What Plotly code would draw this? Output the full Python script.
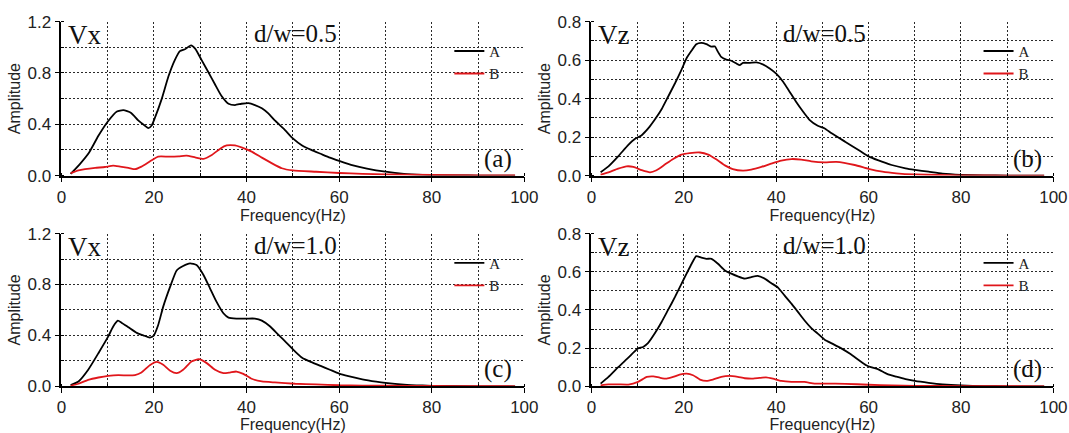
import plotly.graph_objects as go

# ---------------- data ----------------
# (a) Vx, d/w=0.5
fa_A = [2, 4, 6, 8, 10, 12, 13.4, 15, 16.6, 18, 18.8, 19.5, 20.2, 21.7, 23.1, 24.5, 25.6, 26.7, 28, 28.9,
        30.3, 31.7, 33.2, 34.6, 36.1, 37.5, 38.9, 40.4, 41.8, 43.3, 44.7, 46.1, 48.3, 50, 52, 54, 56, 58,
        60, 63, 66, 70, 74, 78, 82, 86, 90, 94, 98]
a_A = [0.013, 0.09, 0.18, 0.31, 0.42, 0.5, 0.51, 0.49, 0.43, 0.39, 0.37, 0.39, 0.45, 0.60, 0.77, 0.90,
       0.97, 0.985, 1.015, 0.99, 0.90, 0.81, 0.71, 0.62, 0.56, 0.55, 0.56, 0.565, 0.55, 0.525, 0.485, 0.43,
       0.355, 0.29, 0.235, 0.2, 0.17, 0.14, 0.115, 0.08, 0.055, 0.03, 0.013, 0.005, 0.002, 0.001, 0, 0, 0]
fa_B = [2, 3.7, 5.1, 7.3, 9.4, 11.2, 12.7, 14.5, 15.9, 17.3, 19.1, 20.9, 23.1, 25.3, 27, 28.9, 30.7, 32.5,
        34.3, 35.7, 37.5, 38.9, 41.1, 43.3, 45.4, 47.6, 50, 55, 60, 65, 70, 80, 90, 98]
a_B = [0.018, 0.04, 0.05, 0.06, 0.067, 0.077, 0.07, 0.06, 0.05, 0.07, 0.11, 0.148, 0.148, 0.15, 0.155,
       0.142, 0.13, 0.16, 0.21, 0.235, 0.235, 0.22, 0.187, 0.14, 0.097, 0.057, 0.04, 0.03, 0.02, 0.014,
       0.01, 0.005, 0.002, 0.001]

# (b) Vz, d/w=0.5
fb_A = [2, 3.7, 5.8, 8, 9.4, 10.9, 12.3, 13.7, 15.2, 16.6, 18.1, 19.5, 20.6, 21.7, 22.7, 23.8, 24.9, 26,
        26.7, 27.4, 28.1, 29.2, 30.3, 31.4, 32.1, 32.8, 34.3, 35.7, 37.1, 38.6, 40, 41.5, 42.9, 44.3, 45.8,
        47.2, 49, 50.5, 52, 55, 58, 60, 62, 65, 68, 70, 73, 76, 80, 85, 90, 98]
b_A = [0.017, 0.048, 0.10, 0.16, 0.19, 0.21, 0.245, 0.29, 0.345, 0.41, 0.48, 0.55, 0.61, 0.65, 0.683,
       0.69, 0.683, 0.67, 0.672, 0.643, 0.617, 0.603, 0.597, 0.583, 0.574, 0.586, 0.586, 0.588, 0.578,
       0.557, 0.53, 0.488, 0.436, 0.384, 0.333, 0.29, 0.259, 0.245, 0.22, 0.175, 0.13, 0.10, 0.08, 0.055,
       0.038, 0.03, 0.02, 0.01, 0.004, 0.001, 0, 0]
fb_B = [2, 3.7, 5.8, 7.6, 9.1, 10.9, 12.7, 14.1, 15.9, 17.7, 19.5, 21.3, 23.5, 25.3, 27.1, 28.9, 30.6,
        32.8, 34.6, 36.8, 38.9, 41.1, 43.3, 45.4, 47.6, 50.5, 53, 57, 60, 63, 66, 70, 75, 80, 90, 98]
b_B = [0.005, 0.017, 0.036, 0.048, 0.045, 0.028, 0.017, 0.028, 0.057, 0.086, 0.109, 0.117, 0.12, 0.109,
       0.083, 0.053, 0.034, 0.026, 0.031, 0.045, 0.062, 0.078, 0.086, 0.083, 0.074, 0.069, 0.071, 0.055,
       0.035, 0.02, 0.012, 0.006, 0.003, 0.001, 0, 0]

# (c) Vx, d/w=1.0
fc_A = [2, 3.7, 5.8, 8, 10.1, 11.2, 12.2, 13, 14.5, 16.3, 17.7, 19.1, 19.9, 20.9, 22, 23.5, 24.9, 26.3,
        27.8, 29.2, 30.7, 32.1, 33.5, 35, 36.1, 37.8, 40, 41.8, 43.3, 45.1, 46.9, 48.7, 50.5, 52, 54, 56,
        58, 60, 62, 65, 68, 70, 74, 78, 82, 90, 98]
c_A = [0.01, 0.038, 0.13, 0.26, 0.39, 0.47, 0.516, 0.50, 0.464, 0.42, 0.40, 0.383, 0.396, 0.48, 0.626,
       0.783, 0.91, 0.945, 0.966, 0.953, 0.875, 0.77, 0.665, 0.574, 0.54, 0.532, 0.532, 0.532, 0.516, 0.47,
       0.404, 0.34, 0.273, 0.225, 0.19, 0.16, 0.13, 0.1, 0.08, 0.055, 0.037, 0.027, 0.013, 0.006, 0.002, 0, 0]
fc_B = [2, 3.7, 5.8, 8, 10.1, 12.3, 14.5, 15.9, 17.3, 19.1, 20.6, 22, 23.5, 24.9, 26.3, 28.1, 29.7, 31.4,
        33.2, 35, 36.4, 37.8, 39.3, 41.1, 43.3, 46.1, 50.5, 55, 60, 70, 80, 90, 98]
c_B = [0.004, 0.02, 0.05, 0.069, 0.082, 0.088, 0.085, 0.088, 0.108, 0.166, 0.192, 0.169, 0.122, 0.103,
       0.13, 0.195, 0.213, 0.182, 0.13, 0.103, 0.108, 0.116, 0.098, 0.059, 0.038, 0.03, 0.02, 0.015, 0.008,
       0.004, 0.002, 0.001, 0]

# (d) Vz, d/w=1.0
fd_A = [2, 3.7, 5.8, 8, 10, 11.2, 12.3, 13.7, 15.2, 16.6, 18.1, 19.5, 20.6, 21.7, 22.7, 23.8, 24.9, 26,
        27.4, 28.9, 30.3, 31.7, 33.2, 34.6, 36, 37.5, 38.9, 40.4, 41.8, 43.3, 44.7, 46.1, 47.6, 49, 50.5,
        52, 54, 56, 58, 59.5, 60.5, 62, 64, 66, 68, 70, 73, 76, 80, 85, 90, 98]
d_A = [0.014, 0.049, 0.10, 0.15, 0.197, 0.206, 0.227, 0.276, 0.337, 0.40, 0.468, 0.537, 0.59, 0.642,
       0.682, 0.674, 0.668, 0.668, 0.642, 0.607, 0.59, 0.576, 0.564, 0.572, 0.578, 0.564, 0.541, 0.517,
       0.476, 0.433, 0.39, 0.346, 0.305, 0.276, 0.244, 0.225, 0.2, 0.17, 0.135, 0.11, 0.1, 0.09, 0.065,
       0.05, 0.037, 0.028, 0.018, 0.01, 0.004, 0.001, 0, 0]
fd_B = [2, 3.7, 5.8, 8, 10.1, 12, 13.4, 14.8, 16.3, 17.7, 19.1, 20.6, 22, 23.5, 24.9, 26.3, 28.1, 29.9,
        31.7, 33.2, 35, 36.4, 37.8, 39.3, 41.1, 43.3, 46.1, 48.3, 50.5, 55, 60, 65, 70, 80, 98]
d_B = [0.005, 0.01, 0.01, 0.009, 0.023, 0.049, 0.052, 0.045, 0.04, 0.049, 0.061, 0.066, 0.058, 0.035,
       0.028, 0.035, 0.049, 0.054, 0.049, 0.042, 0.04, 0.044, 0.047, 0.04, 0.028, 0.023, 0.023, 0.014,
       0.014, 0.013, 0.008, 0.004, 0.002, 0.001, 0]

series_names = ["A", "B"]
components = ["Vx", "Vz", "Vx", "Vz"]
ratios = ["d/w=0.5", "d/w=0.5", "d/w=1.0", "d/w=1.0"]
tags = ["(a)", "(b)", "(c)", "(d)"]
x_ticks = [0, 20, 40, 60, 80, 100]
y_max = [1.2, 0.8, 1.2, 0.8]
x_title = "Frequency(Hz)"
y_title = "Amplitude"

panels = [(fa_A, a_A, fa_B, a_B), (fb_A, b_A, fb_B, b_B),
          (fc_A, c_A, fc_B, c_B), (fd_A, d_A, fd_B, d_B)]

# ---------------- layout geometry ----------------
W, H = 1069, 433
x_dom = [[0.0574, 0.4905], [0.5532, 0.9854], [0.0574, 0.4905], [0.5532, 0.9854]]
y_dom = [[0.5945, 0.9499], [0.5945, 0.9499], [0.1079, 0.4605], [0.1079, 0.4605]]

SERIF = "Liberation Serif, Times New Roman, serif"
SANS = "Liberation Sans, Arial, sans-serif"
colors = {"A": "#000000", "B": "#e0161b"}
GRID = "#2a2a2a"

fig = go.Figure()
layout = dict(width=W, height=H, margin=dict(l=0, r=0, t=0, b=0),
              paper_bgcolor="white", plot_bgcolor="white", showlegend=True,
              font=dict(family=SANS, color="black"))
annotations = []

for i, (fA, vA, fB, vB) in enumerate(panels):
    n = "" if i == 0 else str(i + 1)
    leg = "legend" if i == 0 else "legend" + str(i + 1)
    for name, fx, vy in (("A", fA, vA), ("B", fB, vB)):
        fig.add_trace(go.Scatter(
            x=fx, y=vy, mode="lines", name=name,
            line=dict(color=colors[name], width=1.8, shape="spline", smoothing=0.5),
            xaxis="x" + n, yaxis="y" + n, legend=leg, legendgroup=leg + name,
            hoverinfo="skip"))
    ymax = y_max[i]
    ystep = 0.4 if ymax > 1 else 0.2
    grid = dict(showgrid=True, gridcolor=GRID, gridwidth=1, griddash="2px,2px")
    layout["xaxis" + n] = dict(
        domain=x_dom[i], anchor="y" + n, range=[0, 100], tickmode="array", tickvals=x_ticks,
        ticks="outside", ticklen=5, tickwidth=1.3, tickcolor="black",
        showline=True, linecolor="black", linewidth=1.5, zeroline=False,
        tickfont=dict(family=SANS, size=17, color="#222"), ticklabeloverflow="allow",
        title=dict(text=x_title, font=dict(family=SANS, size=16, color="#222"), standoff=4),
        minor=dict(dtick=10, tick0=0, ticks="inside", ticklen=3, tickcolor="black",
                   showgrid=True, gridcolor=GRID, gridwidth=1, griddash="2px,2px"),
        automargin=False, fixedrange=True, **grid)
    layout["yaxis" + n] = dict(
        domain=y_dom[i], anchor="x" + n, range=[0, ymax], dtick=ystep, tick0=0, tickformat=".1f",
        ticks="outside", ticklen=5, tickwidth=1.3, tickcolor="black",
        showline=True, linecolor="black", linewidth=1.5, zeroline=False,
        tickfont=dict(family=SANS, size=17, color="#222"), ticklabeloverflow="allow",
        title=dict(text=y_title, font=dict(family=SANS, size=16, color="#222"), standoff=3),
        minor=dict(dtick=ystep / 2, tick0=0, ticks="inside", ticklen=3, tickcolor="black",
                   showgrid=True, gridcolor=GRID, gridwidth=1, griddash="2px,2px"),
        automargin=False, fixedrange=True, **grid)
    xd, yd = x_dom[i], y_dom[i]
    layout[leg] = dict(
        x=xd[0] + 0.838 * (xd[1] - xd[0]), y=yd[0] + 0.915 * (yd[1] - yd[0]),
        xanchor="left", yanchor="top", bgcolor="rgba(0,0,0,0)", borderwidth=0,
        font=dict(family=SERIF, size=15, color="#222"), tracegroupgap=0,
        itemwidth=30)
    xr, yr = "x" + n + " domain", "y" + n + " domain"
    annotations.append(dict(text=components[i], xref=xr, yref=yr, x=0.01, y=0.915,
                            xanchor="left", yanchor="middle", showarrow=False,
                            font=dict(family=SERIF, size=27, color="#111")))
    annotations.append(dict(text=ratios[i], xref=xr, yref=yr, x=0.505, y=0.925,
                            xanchor="center", yanchor="middle", showarrow=False,
                            font=dict(family=SERIF, size=25, color="#111")))
    annotations.append(dict(text=tags[i], xref=xr, yref=yr, x=0.943, y=0.11,
                            xanchor="center", yanchor="middle", showarrow=False,
                            font=dict(family=SERIF, size=25, color="#111")))

layout["annotations"] = annotations
fig.update_layout(**layout)
fig.write_html("out.html")
